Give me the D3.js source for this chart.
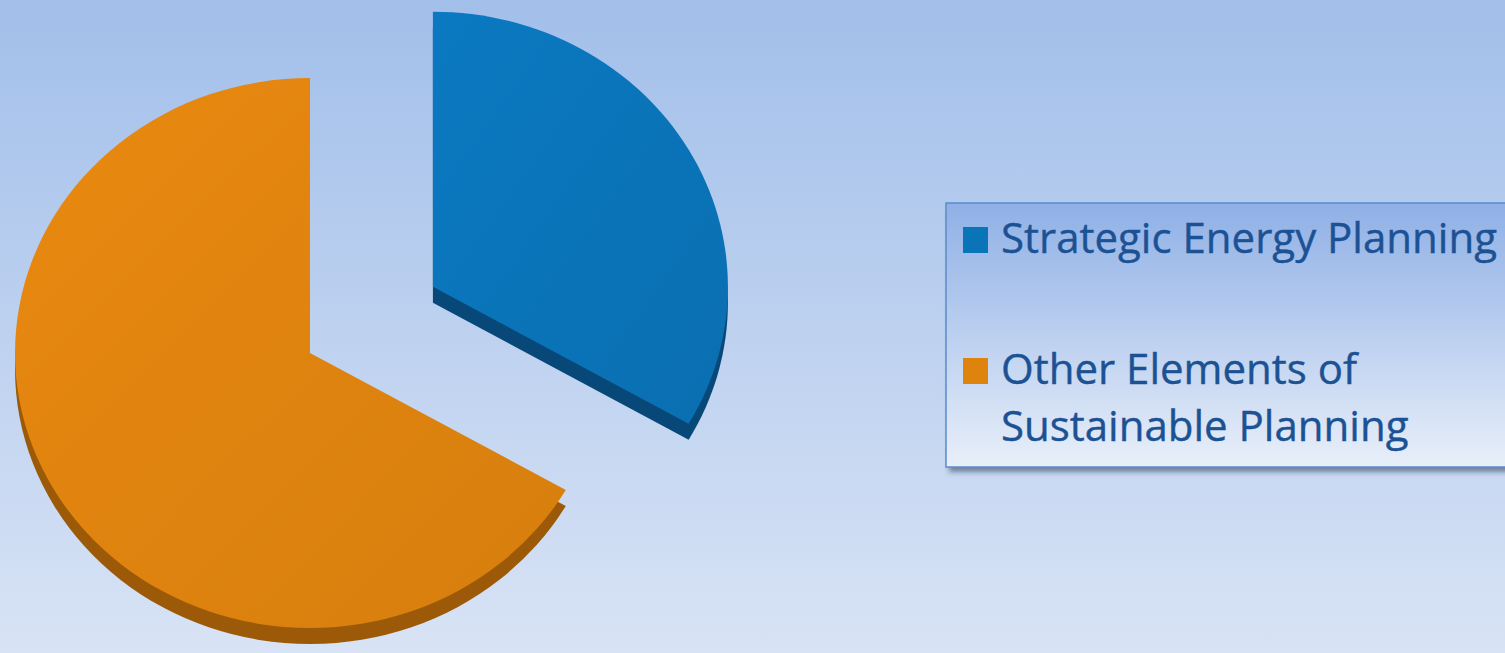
<!DOCTYPE html>
<html>
<head>
<meta charset="utf-8">
<script src="https://cdn.jsdelivr.net/npm/d3@7"></script>
<style>
  html, body { margin: 0; padding: 0; overflow: hidden; }
  svg { display: block; }
</style>
</head>
<body>
<script>
// Chart data
const categories = ["Strategic Energy Planning", "Other Elements of Sustainable Planning"];
const shares = [33.3, 66.7];
const colors = ["#0a74b9", "#df830f"];
const sideColors = ["#074878", "#9c5a08"];
const explode = [142, 0];

const width = 1505, height = 653;
const cx = 310, cy = 353;     // centre of the un-exploded pie
const rx = 295, ry = 275;     // ellipse radii of the tilted pie
const depth = 16;             // thickness of the 3D rim

const svg = d3.select("body").append("svg")
    .attr("width", width)
    .attr("height", height)
    .style("font-family", "'Open Sans', 'Noto Sans', sans-serif");

const defs = svg.append("defs");

const bg = defs.append("linearGradient").attr("id", "bg").attr("x1", 0).attr("y1", 0).attr("x2", 0).attr("y2", 1);
bg.append("stop").attr("offset", "0%").attr("stop-color", "#a2bfea");
bg.append("stop").attr("offset", "100%").attr("stop-color", "#d8e3f5");

const legendFill = defs.append("linearGradient").attr("id", "legendFill").attr("x1", 0).attr("y1", 0).attr("x2", 0).attr("y2", 1);
legendFill.append("stop").attr("offset", "0%").attr("stop-color", "#8fb0e6");
legendFill.append("stop").attr("offset", "100%").attr("stop-color", "#e8eff9");

// subtle light-to-dark shading on each face
colors.forEach((c, i) => {
  const g = defs.append("linearGradient").attr("id", "face" + i).attr("x1", 0).attr("y1", 0).attr("x2", 1).attr("y2", 1);
  g.append("stop").attr("offset", "0%").attr("stop-color", d3.color(c).brighter(0.12));
  g.append("stop").attr("offset", "100%").attr("stop-color", d3.color(c).darker(0.12));
});

const blur = defs.append("filter").attr("id", "shadow").attr("x", "-10%").attr("y", "-10%").attr("width", "130%").attr("height", "130%");
blur.append("feGaussianBlur").attr("stdDeviation", 2.5);

svg.append("rect").attr("width", width).attr("height", height).attr("fill", "url(#bg)");

// Pie
const pie = d3.pie().sort(null).value(d => d)(shares);
const arc = d3.arc().innerRadius(0).outerRadius(rx);
const k = ry / rx;

function offset(d, i) {
  const mid = (d.startAngle + d.endAngle) / 2;
  return [Math.sin(mid) * explode[i], -Math.cos(mid) * explode[i] * k];
}

pie.forEach((d, i) => {
  const [ox, oy] = offset(d, i);
  svg.append("path")
      .attr("d", arc(d))
      .attr("transform", `translate(${cx + ox},${cy + oy + depth}) scale(1,${k})`)
      .attr("fill", sideColors[i]);
  svg.append("path")
      .attr("d", arc(d))
      .attr("transform", `translate(${cx + ox},${cy + oy}) scale(1,${k})`)
      .attr("fill", "url(#face" + i + ")");
});

// Legend
const legendX = 946, legendY = 203, legendW = 620, legendH = 264;

svg.append("rect")
    .attr("x", legendX + 3).attr("y", legendY + 5)
    .attr("width", legendW).attr("height", legendH)
    .attr("fill", "rgba(40,60,90,0.55)")
    .attr("filter", "url(#shadow)");

svg.append("rect")
    .attr("x", legendX).attr("y", legendY)
    .attr("width", legendW).attr("height", legendH)
    .attr("fill", "url(#legendFill)")
    .attr("stroke", "#5a8ccb")
    .attr("stroke-width", 1.5);

const fontSize = 42;
const rowY = [253, 384];

//Wrap text in boxes of set width
function wrap(text, width) {
  text.each(function() {
    const text = d3.select(this);
    const words = text.text().split(/\s+/).reverse();
    let word;
    let line = [];
    let lineNumber = 0;
    const lineHeight = 57; // px
    const x = text.attr("x");
    const y = +text.attr("y");
    let tspan = text.text(null).append("tspan").attr("x", x).attr("y", y);

    while (word = words.pop()) {
      line.push(word);
      tspan.text(line.join(" "));
      if (tspan.node().getComputedTextLength() > width) {
        line.pop();
        tspan.text(line.join(" "));
        line = [word];
        tspan = text.append("tspan").attr("x", x).attr("y", y + (++lineNumber) * lineHeight).text(word);
      }
    }
  });
}

const legend = svg.append("g");

categories.forEach((name, i) => {
  legend.append("rect")
      .attr("x", 963).attr("y", rowY[i] - 26)
      .attr("width", 25).attr("height", 26)
      .attr("fill", colors[i]);
  legend.append("text")
      .attr("x", 1001).attr("y", rowY[i])
      .attr("fill", "#1c5294")
      .attr("stroke", "#1c5294")
      .attr("stroke-width", 0.4)
      .style("font-size", fontSize + "px")
      .text(name)
      .call(wrap, 520);
});
</script>
</body>
</html>
